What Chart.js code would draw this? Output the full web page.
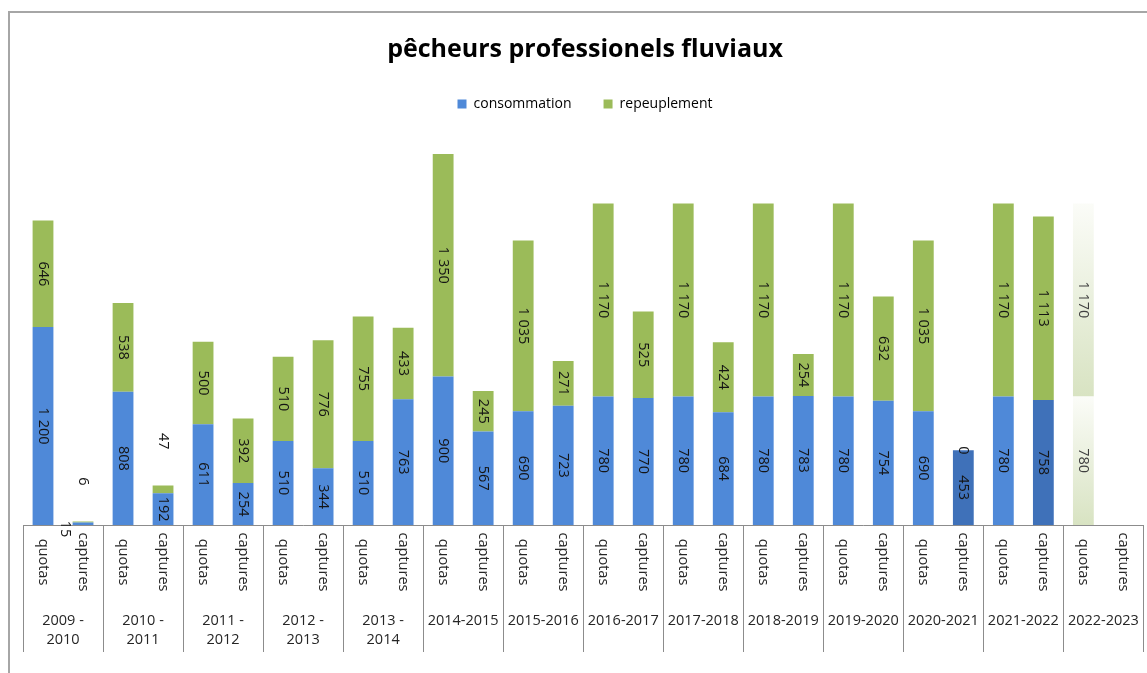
<!DOCTYPE html>
<html>
<head>
<meta charset="utf-8">
<script src="https://cdn.jsdelivr.net/npm/chart.js@4.4.1/dist/chart.umd.min.js"></script>
<style>
  html, body { margin: 0; padding: 0; background: #fff; overflow: hidden; }
  #wrap { width: 1147px; height: 673px; }
</style>
</head>
<body>
<div id="wrap"><canvas id="chart" width="1147" height="673"></canvas></div>
<script>
// saisons et valeurs
const seasons = [
  ['2009 -', '2010'], ['2010 -', '2011'], ['2011 -', '2012'], ['2012 -', '2013'], ['2013 -', '2014'],
  '2014-2015', '2015-2016', '2016-2017', '2017-2018', '2018-2019',
  '2019-2020', '2020-2021', '2021-2022', '2022-2023'
];
const kinds = ['quotas', 'captures'];

const quotasConso = [1200, 808, 611, 510, 510, 900, 690, 780, 780, 780, 780, 690, 780, 780];
const quotasRepeup = [646, 538, 500, 510, 755, 1350, 1035, 1170, 1170, 1170, 1170, 1035, 1170, 1170];
const capturesConso = [15, 192, 254, 344, 763, 567, 723, 770, 684, 783, 754, 453, 758, null];
const capturesRepeup = [6, 47, 392, 776, 433, 245, 271, 525, 424, 254, 632, 0, 1113, null];

// une barre "quotas" puis une barre "captures" par saison
const labels = [];
const conso = [];
const repeup = [];
seasons.forEach((s, i) => {
  labels.push(kinds[0], kinds[1]);
  conso.push(quotasConso[i], capturesConso[i]);
  repeup.push(quotasRepeup[i], capturesRepeup[i]);
});

const BLUE = '#4f89d8';
const BLUE_DARK = '#3f71b9';
const GREEN = '#9bbb59';
const darkBars = [23, 25];   // captures 2020-2021 et 2021-2022
const fadedBar = 26;         // quotas 2022-2023 (prévisionnel)
const FONT = '"Open Sans", sans-serif';

function fmt(v) {
  return String(v).replace(/\B(?=(\d{3})+(?!\d))/g, ' ');
}

function fadedFill(ctx, dsIndex) {
  const chart = ctx.chart;
  const y = chart.scales.y;
  if (!y || !chart.chartArea) return '#e3ebd3';
  const i = ctx.dataIndex;
  const low = dsIndex === 0 ? 0 : conso[i];
  const high = dsIndex === 0 ? conso[i] : conso[i] + repeup[i];
  const g = chart.ctx.createLinearGradient(0, y.getPixelForValue(high), 0, y.getPixelForValue(low));
  g.addColorStop(0, '#fbfcf8');
  g.addColorStop(1, '#d8e3c2');
  return g;
}

const frame = {
  id: 'frame',
  beforeDraw(chart) {
    const c = chart.ctx;
    c.save();
    c.strokeStyle = '#a6a6a6';
    c.lineWidth = 2;
    c.beginPath();
    c.moveTo(9, chart.height + 5);
    c.lineTo(9, 12);
    c.lineTo(chart.width + 5, 12);
    c.stroke();
    c.restore();
  }
};

const axisText = {
  id: 'axisText',
  afterDraw(chart) {
    const c = chart.ctx;
    const x = chart.scales.x;
    const x2 = chart.scales.x2;
    c.save();
    // séparateurs entre saisons
    c.strokeStyle = '#8c8c8c';
    c.lineWidth = 1;
    const step = (x2.right - x2.left) / seasons.length;
    for (let i = 0; i <= seasons.length; i++) {
      const px = Math.round(x2.left + i * step) + 0.5;
      c.beginPath();
      c.moveTo(px, x.top);
      c.lineTo(px, x2.bottom);
      c.stroke();
    }
    // étiquettes quotas / captures, tournées vers la droite
    c.fillStyle = '#262626';
    c.font = '14.5px ' + FONT;
    c.textAlign = 'center';
    c.textBaseline = 'middle';
    labels.forEach((t, i) => {
      c.save();
      c.translate(x.getPixelForTick(i), x.top + 37);
      c.rotate(Math.PI / 2);
      c.fillText(t, 0, 0);
      c.restore();
    });
    c.restore();
  }
};

const barValues = {
  id: 'barValues',
  afterDatasetsDraw(chart) {
    const c = chart.ctx;
    c.save();
    c.font = '14.5px ' + FONT;
    c.textAlign = 'center';
    c.textBaseline = 'middle';
    chart.data.datasets.forEach((ds, d) => {
      chart.getDatasetMeta(d).data.forEach((bar, i) => {
        const v = ds.data[i];
        if (v === null || v === undefined) return;
        const txt = fmt(v);
        const w = c.measureText(txt).width;
        const h = Math.abs(bar.base - bar.y);
        let cx = bar.x;
        let cy = (bar.y + bar.base) / 2;
        if (v > 0 && h < w + 4) {
          if (d === 1) cy = bar.y - w / 2 - 36;
          else { cx = bar.x - 18; cy = bar.base + 4; }
        }
        c.fillStyle = i === fadedBar ? '#404040' : '#141414';
        c.save();
        c.translate(cx, cy);
        c.rotate(Math.PI / 2);
        c.fillText(txt, 0, 0);
        c.restore();
      });
    });
    c.restore();
  }
};

new Chart(document.getElementById('chart'), {
  type: 'bar',
  data: {
    labels: labels,
    datasets: [
      {
        label: 'consommation',
        data: conso,
        backgroundColor: (ctx) => {
          if (ctx.type !== 'data') return BLUE;
          if (ctx.dataIndex === fadedBar) return fadedFill(ctx, 0);
          return darkBars.includes(ctx.dataIndex) ? BLUE_DARK : BLUE;
        },
        borderWidth: 0
      },
      {
        label: 'repeuplement',
        data: repeup,
        backgroundColor: (ctx) => {
          if (ctx.type !== 'data') return GREEN;
          if (ctx.dataIndex === fadedBar) return fadedFill(ctx, 1);
          return GREEN;
        },
        borderWidth: 0
      }
    ]
  },
  options: {
    responsive: false,
    animation: false,
    layout: { padding: { left: 23, right: 0, top: 0, bottom: 21 } },
    datasets: { bar: { categoryPercentage: 0.52, barPercentage: 1 } },
    plugins: {
      title: {
        display: true,
        text: 'pêcheurs professionels fluviaux',
        color: '#000',
        font: { family: FONT, size: 25, weight: 'bold' },
        padding: { top: 35, bottom: 0 }
      },
      legend: {
        position: 'top',
        labels: {
          color: '#595959',
          font: { family: FONT, size: 14 },
          boxWidth: 9,
          boxHeight: 9,
          padding: 32,
          generateLabels: (chart) => [
            { text: 'consommation', fillStyle: BLUE, strokeStyle: BLUE, lineWidth: 0, datasetIndex: 0 },
            { text: 'repeuplement', fillStyle: GREEN, strokeStyle: GREEN, lineWidth: 0, datasetIndex: 1 }
          ]
        }
      },
      tooltip: { enabled: false }
    },
    scales: {
      x: {
        stacked: true,
        grid: { display: false, drawTicks: false },
        border: { display: true, color: '#8c8c8c', width: 1 },
        ticks: { display: false },
        afterFit: (s) => { s.height = 78; }
      },
      x2: {
        type: 'category',
        labels: seasons,
        position: 'bottom',
        offset: true,
        grid: { display: false, drawTicks: false },
        border: { display: false },
        ticks: {
          color: '#262626',
          font: { family: FONT, size: 14.5, lineHeight: 1.35 },
          padding: 8,
          autoSkip: false,
          maxRotation: 0
        },
        afterFit: (s) => { s.height = 49; }
      },
      y: {
        stacked: true,
        display: false,
        min: 0,
        max: 2450
      }
    }
  },
  plugins: [frame, axisText, barValues]
});
</script>
</body>
</html>
